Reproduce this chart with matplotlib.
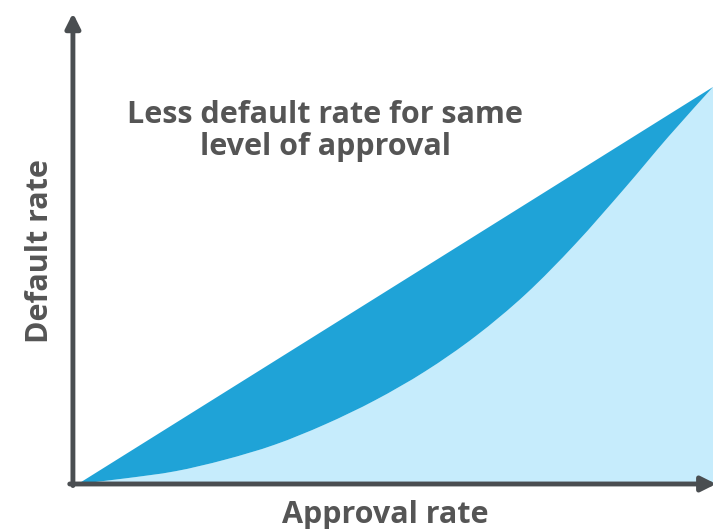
import matplotlib
matplotlib.use("Agg")
import matplotlib.pyplot as plt
from matplotlib.path import Path
from matplotlib.patches import PathPatch

# Approval rate (x) vs default rate (y), both normalised 0..1
diag_x = [0.0, 1.0]
diag_y = [0.0, 1.0]

curve_x = [0.0, 0.074, 0.153, 0.231, 0.310, 0.389, 0.468, 0.547, 0.626,
           0.705, 0.783, 0.861, 0.930, 1.0]
curve_y = [0.0, 0.014, 0.032, 0.061, 0.099, 0.150, 0.211, 0.284, 0.372,
           0.478, 0.604, 0.745, 0.875, 1.0]

title_text = "Less default rate for same\nlevel of approval"
x_label = "Approval rate"
y_label = "Default rate"

dark_blue = "#1fa3d7"
light_blue = "#c6ecfc"
axis_color = "#4a4e51"
text_color = "#555555"
font = ["Open Sans", "DejaVu Sans"]


def smooth_segments(xs, ys):
    # bezier pieces through the read points (catmull-rom tangents)
    pts = list(zip(xs, ys))
    verts, codes = [], []
    for i in range(len(pts) - 1):
        p0 = pts[i - 1] if i > 0 else pts[i]
        p1, p2 = pts[i], pts[i + 1]
        p3 = pts[i + 2] if i + 2 < len(pts) else pts[i + 1]
        c1 = (p1[0] + (p2[0] - p0[0]) / 6, p1[1] + (p2[1] - p0[1]) / 6)
        c2 = (p2[0] - (p3[0] - p1[0]) / 6, p2[1] - (p3[1] - p1[1]) / 6)
        verts += [c1, c2, p2]
        codes += [Path.CURVE4] * 3
    return verts, codes


fig = plt.figure(figsize=(7.13, 5.29), dpi=100)
ax = fig.add_axes([0.1094, 0.0851, 0.8906, 0.7505])
ax.set_xlim(0, 1)
ax.set_ylim(0, 1)
ax.axis("off")

seg_v, seg_c = smooth_segments(curve_x, curve_y)
start = (curve_x[0], curve_y[0])

# light area under the curve
light_v = [start] + seg_v + [(curve_x[-1], 0.0), start]
light_c = [Path.MOVETO] + seg_c + [Path.LINETO, Path.CLOSEPOLY]
ax.add_patch(PathPatch(Path(light_v, light_c), facecolor=light_blue, lw=0))

# dark band between the diagonal and the curve
dark_v = [start] + seg_v + [(diag_x[0], diag_y[0]), start]
dark_c = [Path.MOVETO] + seg_c + [Path.LINETO, Path.CLOSEPOLY]
ax.add_patch(PathPatch(Path(dark_v, dark_c), facecolor=dark_blue, lw=0))

# axes drawn as arrows
arrow = dict(arrowstyle="-|>", lw=3.5, color=axis_color, mutation_scale=22,
             shrinkA=0, shrinkB=0)
ax.annotate("", xy=(-0.008, 1.186), xytext=(-0.008, -0.004), arrowprops=arrow,
            annotation_clip=False)
ax.annotate("", xy=(1.005, 0.0), xytext=(-0.013, 0.0), arrowprops=arrow,
            annotation_clip=False)

ax.text(0.389, 0.889, title_text, ha="center", va="center", fontsize=22,
        fontweight="bold", color=text_color, family=font, linespacing=1.1)

fig.text(0.54, 0.012, x_label, ha="center", va="baseline", fontsize=22,
         fontweight="bold", color=text_color, family=font)
fig.text(0.056, 0.526, y_label, ha="center", va="center", rotation=90,
         fontsize=22, fontweight="bold", color=text_color, family=font)

fig.savefig("out.png", dpi=100)
